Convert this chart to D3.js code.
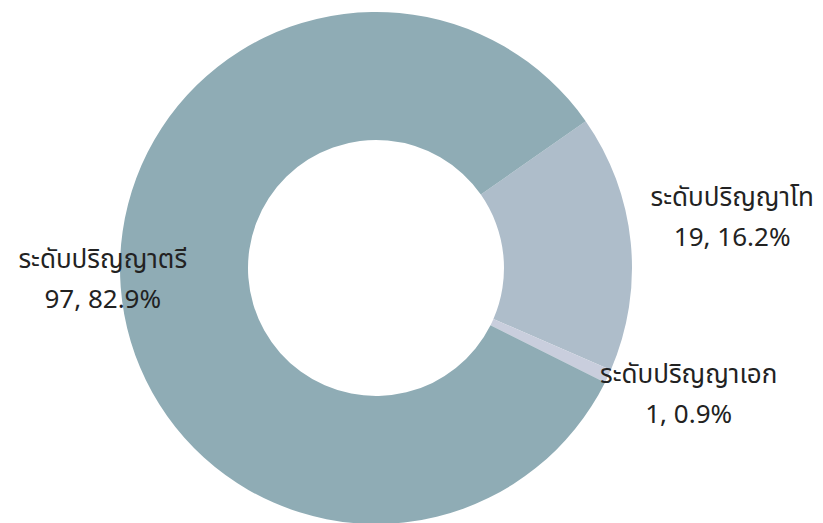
<!DOCTYPE html>
<html><head><meta charset="utf-8">
<script src="https://cdn.jsdelivr.net/npm/d3@7"></script>
<style>body{margin:0;background:#fff;} text{font-family:"Noto Sans Thai","Noto Sans Thai UI","Noto Sans","DejaVu Sans Condensed",sans-serif;}</style>
</head><body>
<svg id="c" width="823" height="523"></svg>
<script>
const categories = ["ระดับปริญญาโท", "ระดับปริญญาเอก", "ระดับปริญญาตรี"];
const values = [19, 1, 97];
const percents = ["16.2%", "0.9%", "82.9%"];
const colors = ["#aebdca", "#c9cedd", "#8facb5"];

const W = 823, H = 523, cx = 376, cy = 268, R = 256, r0 = 128;
const startAngle = 55 * Math.PI / 180;
const svg = d3.select("#c");
const g = svg.append("g").attr("transform", `translate(${cx},${cy})`);
const data = categories.map((c, i) => ({c, v: values[i], p: percents[i], col: colors[i]}));
const pie = d3.pie().value(d => d.v).sort(null).startAngle(startAngle).endAngle(startAngle + 2 * Math.PI);
const arc = d3.arc().innerRadius(r0).outerRadius(R);
const arcs = pie(data);
g.selectAll("path").data(arcs).enter().append("path").attr("d", arc).attr("fill", d => d.data.col);

const labelR = [358, 345, 276];
const labelDy = [-16, -21, -10];
const labelDx = [0, 0, 2];
arcs.forEach((a, i) => {
  const m = (a.startAngle + a.endAngle) / 2;
  const x = labelR[i] * Math.sin(m) + labelDx[i], y = -labelR[i] * Math.cos(m) + labelDy[i];
  const t = g.append("text").attr("text-anchor", "middle").attr("font-size", 26).attr("fill", "#222")
    .attr("font-stretch", "condensed");
  t.append("tspan").attr("x", x).attr("y", y - 10).text(a.data.c);
  t.append("tspan").attr("x", x).attr("y", y + 30).text(`${a.data.v}, ${a.data.p}`);
});
</script></body></html>
